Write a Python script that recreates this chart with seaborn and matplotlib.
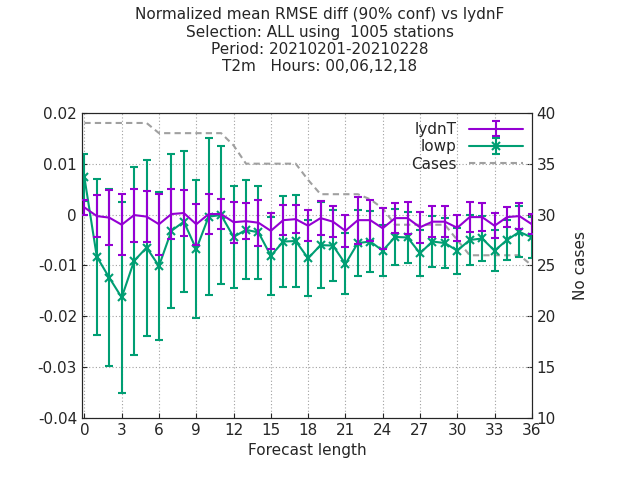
import numpy as np
import pandas as pd
import matplotlib
matplotlib.use("Agg")
import matplotlib.pyplot as plt
import seaborn as sns
from matplotlib.ticker import FuncFormatter

hours = list(range(37))

lydnT = [0.0014, -0.0003, -0.0006, -0.0020, -0.0001, -0.0004, -0.0019, 0.0001, 0.0003,
         -0.0019, 0.0001, 0.0001, -0.0015, -0.0013, -0.0016, -0.0032, -0.0011,
         -0.0009, -0.0022, -0.0007, -0.0014, -0.0032, -0.0011, -0.0011, -0.0027,
         -0.0007, -0.0007, -0.0025, -0.0014, -0.0014, -0.0026, -0.0005, -0.0005,
         -0.0022, -0.0005, -0.0003, -0.0019]
lydnT_err = [0.0015, 0.0042, 0.0054, 0.0060, 0.0052, 0.0050, 0.0060, 0.0050, 0.0045,
             0.0040, 0.0040, 0.0030, 0.0040, 0.0035, 0.0045, 0.0035, 0.0030,
             0.0028, 0.0030, 0.0033, 0.0030, 0.0032, 0.0046, 0.0040, 0.0040,
             0.0030, 0.0032, 0.0030, 0.0030, 0.0030, 0.0025, 0.0030, 0.0028,
             0.0025, 0.0020, 0.0025, 0.0020]
lowp = [0.0073, -0.0083, -0.0124, -0.0163, -0.0091, -0.0065, -0.0101, -0.0032, -0.0014,
        -0.0068, -0.0004, -0.0001, -0.0044, -0.0030, -0.0035, -0.0081, -0.0053,
        -0.0052, -0.0086, -0.0060, -0.0061, -0.0097, -0.0056, -0.0053, -0.0071,
        -0.0044, -0.0045, -0.0076, -0.0053, -0.0056, -0.0071, -0.0050, -0.0047,
        -0.0071, -0.0050, -0.0034, -0.0045]
lowp_err = [0.0047, 0.0153, 0.0174, 0.0187, 0.0185, 0.0173, 0.0146, 0.0151, 0.0138,
            0.0135, 0.0154, 0.0135, 0.0100, 0.0097, 0.0092, 0.0077, 0.0090,
            0.0090, 0.0075, 0.0085, 0.0070, 0.0060, 0.0065, 0.0060, 0.0050,
            0.0055, 0.0050, 0.0045, 0.0050, 0.0050, 0.0045, 0.0050, 0.0045,
            0.0040, 0.0040, 0.0050, 0.0040]
cases = [39, 39, 39, 39, 39, 39, 38, 38, 38, 38, 38, 38, 36.8, 35, 35, 35, 35, 35,
         33.4, 32, 32, 32, 32, 31.5, 30.6, 29, 29, 29, 29, 29, 27.5, 26, 26, 26, 26, 26, 25]

purple = "#9400d3"
green = "#009e73"
grey = "#a0a0a0"

df = pd.DataFrame({"hour": hours, "lydnT": lydnT, "lowp": lowp, "cases": cases})

sns.set_style("ticks")
plt.rcParams["font.family"] = ["DejaVu Sans"]

fig = plt.figure(figsize=(6.4, 4.8), dpi=100)
ax = fig.add_axes([0.128, 0.129, 0.703, 0.636])
ax2 = ax.twinx()

sns.lineplot(data=df, x="hour", y="cases", ax=ax2, color=grey, linestyle=(0, (3, 2)),
             linewidth=1.5, label="Cases", legend=False)
ax2.set_ylim(10, 40)
ax2.set_yticks(range(10, 41, 5))
ax2.set_ylabel("No cases", fontsize=11, labelpad=12)

ax.set_zorder(ax2.get_zorder() + 1)
ax.patch.set_visible(False)

# green first so the purple bars sit on top, as in the original
e_low = ax.errorbar(hours, lowp, yerr=lowp_err, color=green, linewidth=1.5, capsize=3,
                    elinewidth=1.5, capthick=1.5, marker="x", markersize=6, mew=1.5,
                    label="lowp", zorder=2)
e_ly = ax.errorbar(hours, lydnT, yerr=lydnT_err, color=purple, linewidth=1.5, capsize=3,
                   elinewidth=1.5, capthick=1.5, label="lydnT", zorder=3)

ax.set_xlim(-0.2, 36)
ax.set_ylim(-0.04, 0.02)
ax.set_xticks(range(0, 37, 3))
ax.set_yticks(np.arange(-0.04, 0.021, 0.01))
ax.yaxis.set_major_formatter(FuncFormatter(lambda v, p: "0" if abs(v) < 1e-9 else f"{v:g}"))
ax.grid(True, color="#a0a0a0", linestyle=(0, (1, 2)), linewidth=0.8)
ax.tick_params(direction="in", labelsize=11)
ax2.tick_params(direction="in", labelsize=11)
ax.set_xlabel("Forecast length", fontsize=11)
ax.set_ylabel("")

h2, l2 = ax2.get_legend_handles_labels()
ax.legend([e_ly, e_low] + h2, ["lydnT", "lowp"] + l2, loc="upper right",
          markerfirst=False, frameon=False, fontsize=11, handlelength=3.5,
          borderaxespad=0.2, labelspacing=0.15)

fig.suptitle("Normalized mean RMSE diff (90% conf) vs lydnF\n"
             "Selection: ALL using  1005 stations\n"
             "Period: 20210201-20210228\n"
             "T2m   Hours: 00,06,12,18", y=0.985, fontsize=11, linespacing=1.2)

fig.savefig("out.png", dpi=100)
